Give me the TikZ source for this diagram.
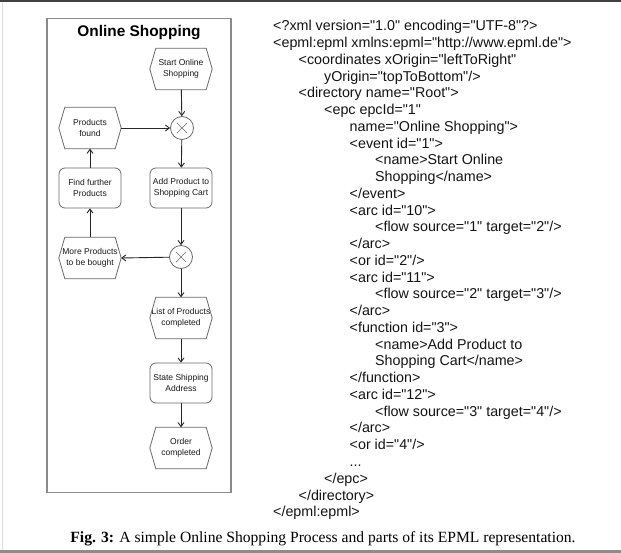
\documentclass[tikz,border=0pt]{standalone}
\usepackage{fontspec}
\setmainfont{Liberation Serif}
\setsansfont{Liberation Sans}
\newfontfamily\codefont{Liberation Sans}
\usetikzlibrary{arrows.meta,calc}
\definecolor{shapegray}{HTML}{6A6A6A}
\definecolor{framegray}{HTML}{8A8A8A}
\tikzset{
  epctext/.style={font=\codefont\fontsize{8.5}{10.6}\selectfont, align=center, text=black!90, inner sep=0pt},
  eventbox/.style={epctext, minimum width=62pt, minimum height=41pt},
  funcbox/.style={epctext, draw=shapegray, line width=0.8pt, rounded corners=6pt, minimum width=62pt, minimum height=40pt},
  xorbox/.style={circle, draw=shapegray, line width=0.8pt, minimum size=23pt, inner sep=0pt},
  flow/.style={draw=black!85, line width=0.9pt, -{Straight Barb[length=4pt,width=6pt]}},
  hexline/.style={draw=shapegray, line width=0.8pt},
  code/.style={font=\codefont\fontsize{14.3}{16}\selectfont, anchor=west, inner sep=0pt, text height=10.5pt, text depth=3pt, text=black!92},
}
\newcommand\hexshape[1]{\draw[hexline] (#1.west) -- ([xshift=6pt]#1.north west) -- ([xshift=-6pt]#1.north east) -- (#1.east) -- ([xshift=-6pt]#1.south east) -- ([xshift=6pt]#1.south west) -- cycle;}
\newcommand\xcross[1]{\draw[shapegray, line width=0.7pt] ($(#1.center)!0.6!(#1.north east)$) -- ($(#1.center)!0.6!(#1.south west)$) ($(#1.center)!0.6!(#1.north west)$) -- ($(#1.center)!0.6!(#1.south east)$);}
\begin{document}
\begin{tikzpicture}[x=1pt,y=-1pt]
\useasboundingbox (0,0) rectangle (621,553);
\fill[white] (0,0) rectangle (621,553);
% page edges
\fill[black!75] (0,0) rectangle (621,2);
\fill[black!45] (0,549.5) rectangle (621,553);
\draw[black!12, line width=0.8pt] (2.5,2) -- (2.5,549.5);

% frame
\node[draw=framegray, line width=1.2pt, minimum width=184pt, minimum height=474pt, inner sep=0pt] (frame) at (139,255.5) {};
\node[font=\codefont\bfseries\fontsize{15.4}{18}\selectfont, inner sep=0pt] (title) at (139,33) {Online Shopping};

% EPC nodes
\node[eventbox] (e1) at (181,69) {Start Online\\Shopping};
\node[xorbox] (x1) at (182,128) {};
\node[eventbox] (e2) at (90,128) {Products\\found};
\node[funcbox] (f2) at (90,188) {Find further\\Products};
\node[funcbox] (f1) at (181,188) {Add Product to\\Shopping Cart};
\node[xorbox] (x2) at (181,257) {};
\node[eventbox] (e3) at (90,258) {More Products\\to be bought};
\node[eventbox] (e4) at (181,318) {List of Products\\completed};
\node[funcbox] (f3) at (181,383) {State Shipping\\Address};
\node[eventbox] (e5) at (181,448) {Order\\completed};

\hexshape{e1}\hexshape{e2}\hexshape{e3}\hexshape{e4}\hexshape{e5}
\xcross{x1}\xcross{x2}

% connectors
\draw[flow] (e1) -- (x1);
\draw[flow] (e2.east) -- (x1);
\draw[flow] (x1) -- (f1);
\draw[flow] (f1) -- (x2);
\draw[flow] (x2) -- (e3.east);
\draw[flow] (e3) -- (f2);
\draw[flow] (f2) -- (e2);
\draw[flow] (x2) -- (e4);
\draw[flow] (e4) -- (f3);
\draw[flow] (f3) -- (e5);

% XML code
\node[code] (c1) at (273,27) {<?xml version="1.0" encoding="UTF-8"?>};
\node[code] (c2) at (273,43.76) {<epml:epml xmlns:epml="http://www.epml.de">};
\node[code] (c3) at (298.5,60.52) {<coordinates xOrigin="leftToRight"};
\node[code] (c4) at (324,77.28) {yOrigin="topToBottom"/>};
\node[code] (c5) at (298.5,94.04) {<directory name="Root">};
\node[code] (c6) at (324,110.8) {<epc epcId="1"};
\node[code] (c7) at (349.5,127.56) {name="Online Shopping">};
\node[code] (c8) at (349.5,144.32) {<event id="1">};
\node[code] (c9) at (375,161.08) {<name>Start Online};
\node[code] (c10) at (375,177.84) {Shopping</name>};
\node[code] (c11) at (349.5,194.6) {</event>};
\node[code] (c12) at (349.5,211.36) {<arc id="10">};
\node[code] (c13) at (375,228.12) {<flow source="1" target="2"/>};
\node[code] (c14) at (349.5,244.88) {</arc>};
\node[code] (c15) at (349.5,261.64) {<or id="2"/>};
\node[code] (c16) at (349.5,278.4) {<arc id="11">};
\node[code] (c17) at (375,295.16) {<flow source="2" target="3"/>};
\node[code] (c18) at (349.5,311.92) {</arc>};
\node[code] (c19) at (349.5,328.68) {<function id="3">};
\node[code] (c20) at (375,345.44) {<name>Add Product to};
\node[code] (c21) at (375,362.2) {Shopping Cart</name>};
\node[code] (c22) at (349.5,378.96) {</function>};
\node[code] (c23) at (349.5,395.72) {<arc id="12">};
\node[code] (c24) at (375,412.48) {<flow source="3" target="4"/>};
\node[code] (c25) at (349.5,429.24) {</arc>};
\node[code] (c26) at (349.5,446) {<or id="4"/>};
\node[code] (c27) at (349.5,462.76) {...};
\node[code] (c28) at (324,479.52) {</epc>};
\node[code] (c29) at (298.5,496.28) {</directory>};
\node[code] (c30) at (273,513.04) {</epml:epml>};

% caption
\node[font=\fontsize{15.6}{18}\selectfont, inner sep=0pt] (cap) at (323,539) {\textbf{Fig. 3:} A simple Online Shopping Process and parts of its EPML representation.};
\end{tikzpicture}
\end{document}
